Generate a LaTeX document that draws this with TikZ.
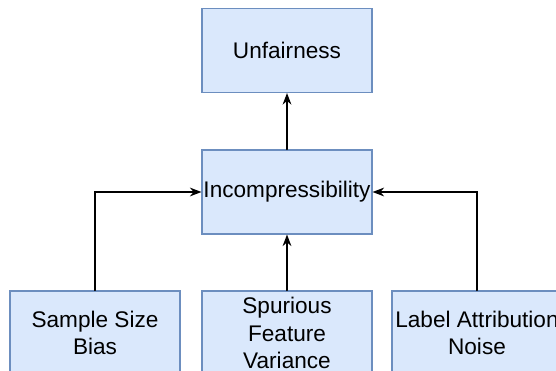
\documentclass[tikz,border=0pt]{standalone}
\usepackage{fontspec}
\setmainfont{Liberation Sans}
\usetikzlibrary{arrows.meta}
\definecolor{boxfill}{HTML}{DAE8FC}
\definecolor{boxline}{HTML}{6C8EBF}
\begin{document}
\begin{tikzpicture}[x=0.5pt, y=0.5pt, line cap=round,
    box/.style={draw=boxline, fill=boxfill, line width=0.55pt, minimum width=85pt, minimum height=42pt,
      inner sep=0pt, align=center, font=\fontsize{11.3}{13.75}\selectfont},
    link/.style={-{Stealth[length=5.8pt, width=4.4pt, inset=1.9pt]}, line width=0.6pt}]
        % 描画範囲(下と右のボックスははみ出す)
        \useasboundingbox (0,0) rectangle (556,370);

        % 上の二つのボックス
        \node[box] (unfair) at (287,319.5) {Unfairness};
        \node[box] (incomp) at (287,178) {Incompressibility};

        % 下の三つのボックス
        \node[box] (sbias) at (95,37) {Sample Size\\Bias};
        \node[box] (sfvar) at (287,37) {Spurious\\Feature\\Variance};
        \node[box] (lnoise) at (477,37) {Label Attribution\\Noise};

        % 矢印(左右は折れ線)
        \draw[link] (incomp) -- (unfair);
        \draw[link] (sfvar) -- (incomp);
        \draw[link] (sbias.north) |- (incomp.west);
        \draw[link] (lnoise.north) |- (incomp.east);
    \end{tikzpicture}
\end{document}
